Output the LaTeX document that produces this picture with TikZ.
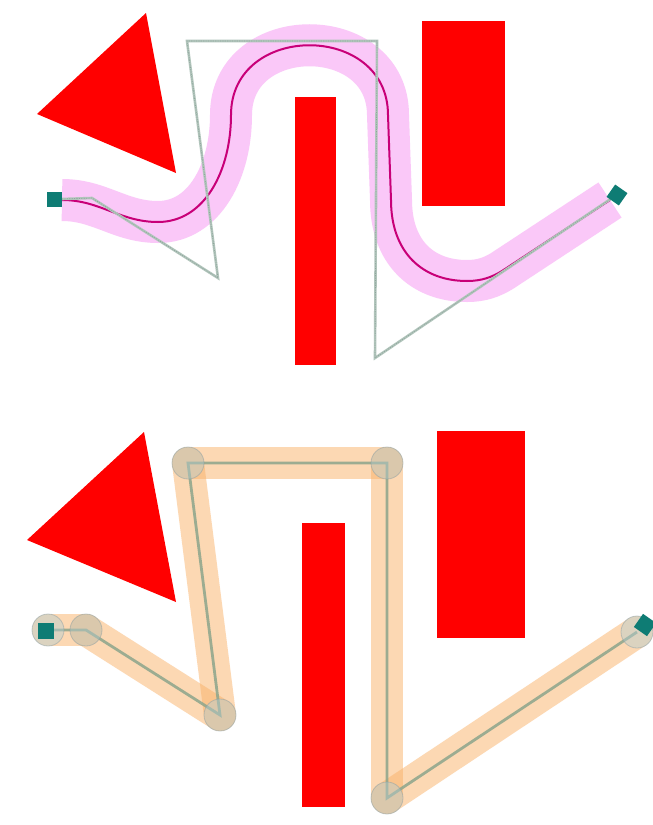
\documentclass[tikz,border=0pt]{standalone}
\usetikzlibrary{calc}
\definecolor{obst}{RGB}{255,0,0}
\definecolor{teal1}{RGB}{14,124,116}
\definecolor{pinkband}{RGB}{250,200,248}
\definecolor{magline}{RGB}{200,0,120}
\definecolor{ctrl}{RGB}{178,198,188}
\definecolor{ctrldark}{RGB}{130,150,145}
\definecolor{peach}{RGB}{250,178,105}
\definecolor{cline}{RGB}{140,165,140}
\definecolor{vfill}{RGB}{180,205,210}
\definecolor{vdraw}{RGB}{140,160,165}
\tikzset{
  obstacle/.style={fill=obst,draw=none},
  endsq/.style={fill=teal1,draw=none,minimum size=15pt,inner sep=0pt,shape=rectangle},
  band/.style={draw=pinkband,line width=42pt,line cap=butt},
  curveline/.style={draw=magline,line width=2pt},
  ctrlpoly/.style={draw=ctrl,line width=2.6pt,line join=miter},
  ctrldots/.style={draw=ctrldark,draw opacity=0.7,line width=0.7pt,dash pattern=on 1.2pt off 1.2pt},
  segband/.style={draw=peach,draw opacity=0.5,line width=32pt,line cap=round},
  centerline/.style={draw=cline,draw opacity=0.85,line width=2.8pt},
  vert/.style={circle,minimum size=32pt,inner sep=0pt,fill=vfill,fill opacity=0.45,draw=vdraw,draw opacity=0.5,line width=0.8pt}
}
\begin{document}
\begin{tikzpicture}[x=1pt,y=-1pt]
\useasboundingbox (0,0) rectangle (653,825);
\fill[white] (0,0) rectangle (653,825);
\begin{scope}
\clip (0,0) rectangle (653,825);
% ---------------- top panel ----------------
\fill[obstacle] (146,13) -- (37,114) -- (176,173) -- cycle;
\fill[obstacle] (295,97) rectangle (336,365);
\fill[obstacle] (422,21) rectangle (505,206);
\def\toppath{(62,200) .. controls (100,200) and (120,222) .. (158,222)
  .. controls (205,222) and (231,170) .. (231,115)
  .. controls (231,22) and (388,22) .. (388,115)
  -- (391,200)
  .. controls (391,252) and (422,281) .. (467,281)
  .. controls (482,281) and (492,277) .. (502,271)
  -- (610,200)}
\draw[band] \toppath;
\draw[curveline] \toppath;
\coordinate (t0) at (62,199);
\coordinate (t1) at (92,198);
\coordinate (t2) at (218,278);
\coordinate (t3) at (187,41);
\coordinate (t4) at (377,41);
\coordinate (t5) at (375,358);
\coordinate (t6) at (612,198);
\draw[ctrlpoly] (t0) -- (t1) -- (t2) -- (t3) -- (t4) -- (t5) -- (t6);
\draw[ctrldots] (t0) -- (t1) -- (t2) -- (t3) -- (t4) -- (t5) -- (t6);
\node[endsq] (ts) at (54.5,199.5) {};
\node[endsq,rotate=-35] (te) at (617,195) {};
% ---------------- bottom panel ----------------
\fill[obstacle] (144,432) -- (27,540) -- (176,602) -- cycle;
\fill[obstacle] (302,523) rectangle (345,807);
\fill[obstacle] (437,431) rectangle (525,638);
\coordinate (b0) at (48,630);
\coordinate (b1) at (86,630);
\coordinate (b2) at (220,715);
\coordinate (b3) at (188,463);
\coordinate (b4) at (387,463);
\coordinate (b5) at (387,798);
\coordinate (b6) at (637,632);
\draw[segband] (b0) -- (b1);
\draw[segband] (b1) -- (b2);
\draw[segband] (b2) -- (b3);
\draw[segband] (b3) -- (b4);
\draw[segband] (b4) -- (b5);
\draw[segband] (b5) -- (b6);
\draw[centerline] (b0) -- (b1) -- (b2) -- (b3) -- (b4) -- (b5) -- (b6);
\foreach \p in {b0,b1,b2,b3,b4,b5,b6} \node[vert] at (\p) {};
\node[endsq,minimum size=16pt] (bs) at (46,631) {};
\node[endsq,rotate=-35,minimum size=16pt] (be) at (645,625) {};
\end{scope}
\end{tikzpicture}
\end{document}
